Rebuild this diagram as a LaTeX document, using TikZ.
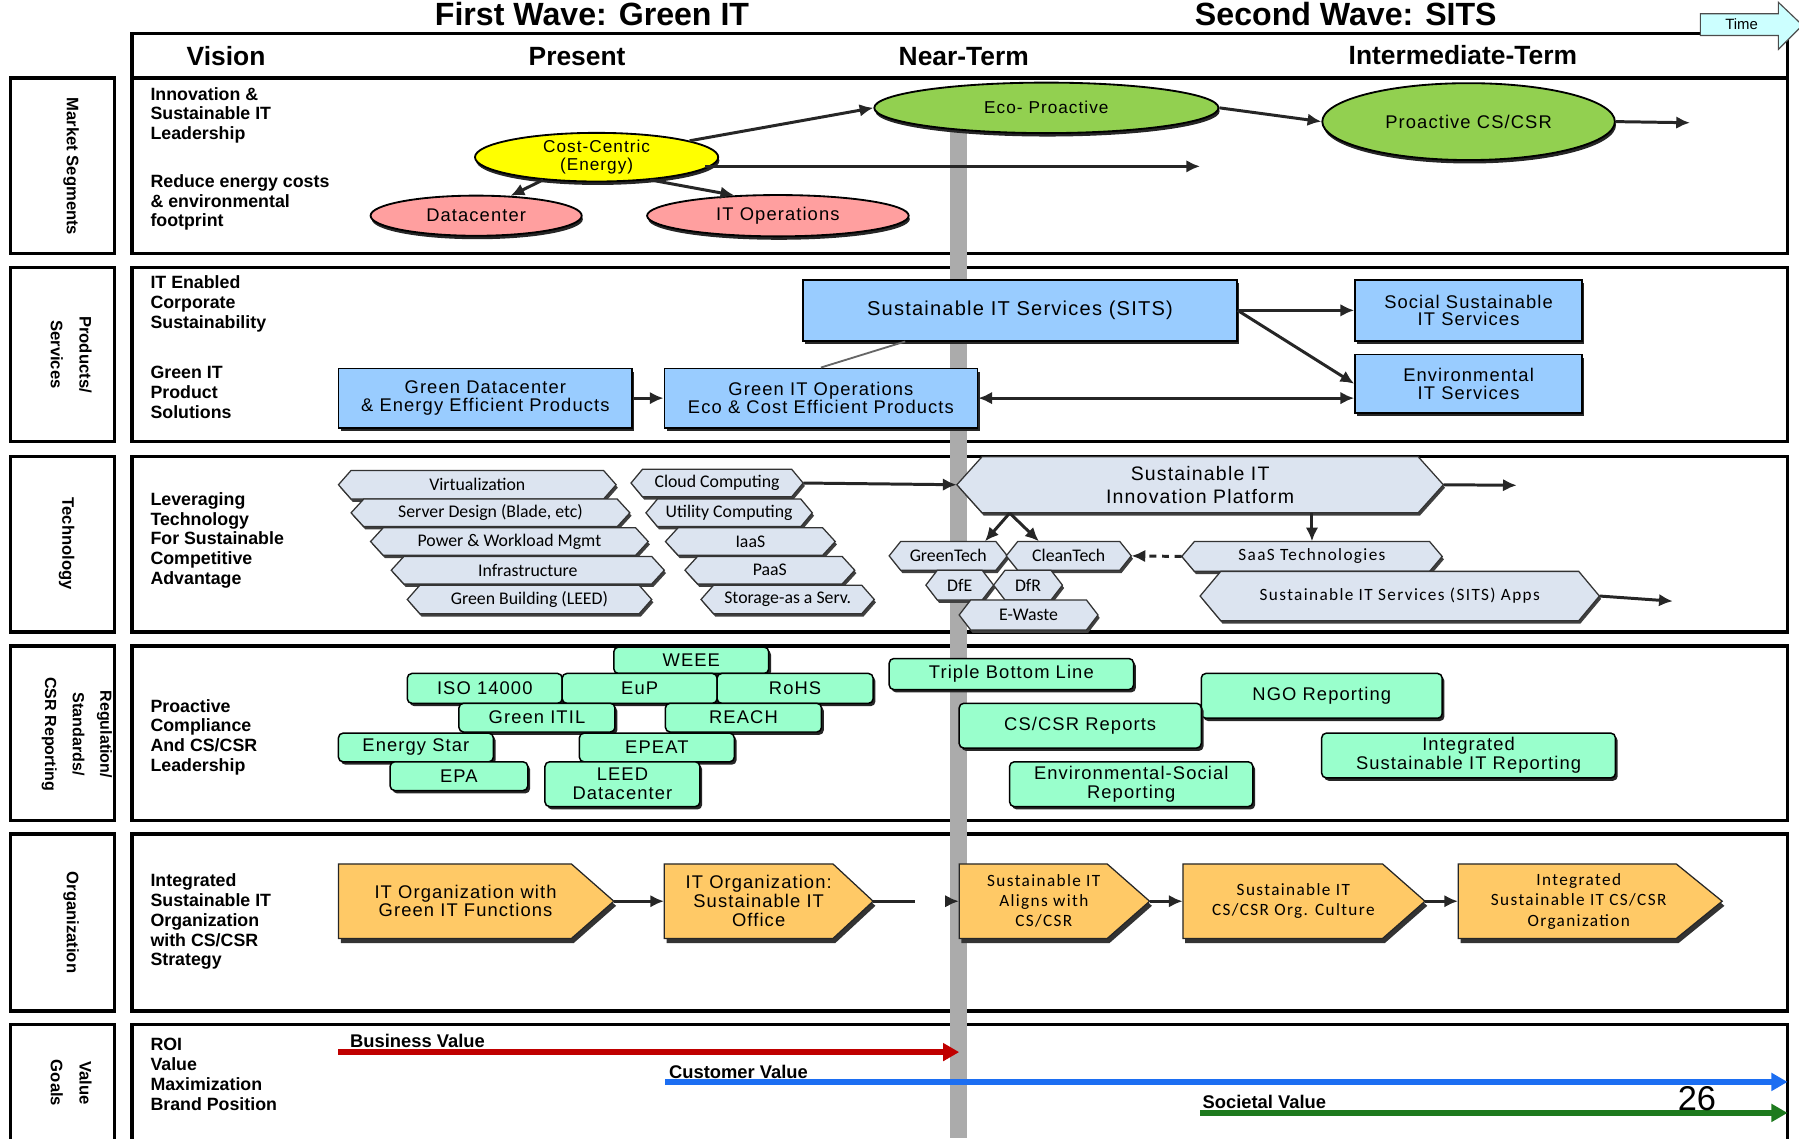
\documentclass[tikz,border=0pt]{standalone}
\usepackage{fontspec}
\setmainfont{Liberation Sans}
\newfontfamily\boxfont{Liberation Sans}[LetterSpace=6]
\newfontfamily\calfont{Carlito}
\newfontfamily\calspaced{Carlito}[LetterSpace=8]
\usetikzlibrary{shapes.geometric,shadows,arrows.meta}

\definecolor{ecogreen}{HTML}{92D050}
\definecolor{costyellow}{HTML}{FFFF00}
\definecolor{rosepink}{HTML}{FF9F9F}
\definecolor{skyblue}{HTML}{99CCFF}
\definecolor{hexfill}{HTML}{DCE4F0}
\definecolor{mintfill}{HTML}{99FFCC}
\definecolor{orgorange}{HTML}{FFC966}
\definecolor{barcol}{HTML}{ABABAB}
\definecolor{timefill}{HTML}{CCFFFF}
\definecolor{valred}{HTML}{C00000}
\definecolor{valblue}{HTML}{1C6EF2}
\definecolor{valgreen}{HTML}{1E7A1E}

\tikzset{
  rowframe/.style={draw=black, line width=3pt},
  sidelabel/.style={rotate=-90, align=center, inner sep=0, font=\bfseries\fontsize{14.5}{25}\selectfont},
  rowtext/.style={anchor=west, align=left, inner sep=0, font=\bfseries\fontsize{15.5}{17.2}\selectfont},
  colhead/.style={inner sep=0, font=\bfseries\fontsize{23}{25}\selectfont},
  wavetitle/.style={anchor=base, inner sep=0, font=\bfseries\fontsize{28}{30}\selectfont},
  conn/.style={draw=black!85, line width=2.6pt, -{Latex[length=12pt,width=11pt]}},
  oval/.style={ellipse, draw=black, line width=1.6pt, inner sep=0, align=center,
    drop shadow={shadow xshift=1pt, shadow yshift=-3pt, fill=black!85, opacity=1}},
  bluebox/.style={rectangle, draw=black, line width=1.3pt, fill=skyblue, inner sep=0, align=center,
    font=\boxfont\fontsize{16}{15.5}\selectfont,
    drop shadow={shadow xshift=2pt, shadow yshift=-3pt, fill=black!85, opacity=1}},
  hexbox/.style={fill=hexfill, draw=black!80, line width=1.1pt,
    drop shadow={shadow xshift=1.5pt, shadow yshift=-2.5pt, fill=black!75, opacity=1}},
  hexlabel/.style={inner sep=0, align=center, font=\calfont\fontsize{15.5}{17}\selectfont},
  mintbox/.style={rectangle, rounded corners=4pt, draw=black, line width=1.3pt, fill=mintfill,
    inner sep=1pt, align=center, font=\boxfont\fontsize{16}{16.5}\selectfont,
    drop shadow={shadow xshift=2pt, shadow yshift=-2.5pt, fill=black!85, opacity=1}},
  chevbox/.style={fill=orgorange, draw=black!85, line width=1.1pt,
    drop shadow={shadow xshift=2pt, shadow yshift=-4pt, fill=black!80, opacity=1}},
  chevlabel/.style={inner sep=0, align=center},
  vallabel/.style={anchor=base west, inner sep=0, font=\bfseries\fontsize{16}{16}\selectfont},
  valline/.style={line width=5pt, -{Triangle[length=14pt,width=15pt]}}
}

% elongated hexagon: name, x1, y1, x2, y2, point depth, label options, text
\newcommand\hexnode[8]{%
  \path[hexbox] ({#2+#6},#3) -- ({#4-#6},#3) -- (#4,{(#3+#5)/2}) -- ({#4-#6},#5)
     -- ({#2+#6},#5) -- (#2,{(#3+#5)/2}) -- cycle;
  \node[hexlabel, minimum width={#4-#2}, minimum height={#5-#3}, #7] (#1)
     at ({(#2+#4)/2},{(#3+#5)/2}) {#8};
}
% flat-backed chevron: name, x1, y1, x2, y2, point depth, label options, text
\newcommand\chevnode[8]{%
  \path[chevbox] (#2,#3) -- ({#4-#6},#3) -- (#4,{(#3+#5)/2}) -- ({#4-#6},#5) -- (#2,#5) -- cycle;
  \node[inner sep=0, minimum width={#4-#2}, minimum height={#5-#3}] (#1)
     at ({(#2+#4)/2},{(#3+#5)/2}) {};
  \node[chevlabel, #7] (#1-text) at ({(#2+#4)/2-#6/4},{(#3+#5)/2}) {#8};
}
% box node placed by its corners: name, x1, y1, x2, y2, style
\newcommand\boxat[6]{\node[#6, minimum width={#4-#2}, minimum height={#5-#3}] (#1) at ({(#2+#4)/2},{(#3+#5)/2})}

\begin{document}
\begin{tikzpicture}[x=1pt,y=-1pt]
\useasboundingbox (0,0) rectangle (1568,992);

% ---- wave titles
\node[wavetitle] (wave1) at (516,22) {First Wave: Green IT};
\node[wavetitle] (wave2) at (1173,22) {Second Wave: SITS};

% ---- frames
\draw[rowframe] (115,29) rectangle (1558,68);
\foreach \ya/\yb in {68/221, 233/385, 398/551, 563/715, 727/881, 893/1010}{
  \draw[rowframe] (115,\ya) rectangle (1558,\yb);
  \draw[rowframe] (9,\ya) rectangle (100,\yb);
}

% ---- time arrow
\path[fill=timefill, draw=black!70, line width=1pt]
  (1482,12) -- (1550,12) -- (1550,2) -- (1571,22) -- (1550,43) -- (1550,31) -- (1482,31) -- cycle;
\node[inner sep=0, font=\fontsize{13}{13}\selectfont] (time) at (1518,21) {Time};

% ---- column heads
\node[colhead] (hvision) at (197,49) {Vision};
\node[colhead] (hpresent) at (503,49) {Present};
\node[colhead] (hnear) at (840,49) {Near-Term};
\node[colhead] (hinter) at (1275,48) {Intermediate-Term};

% ---- side labels
\node[sidelabel] (lab1) at (62,145) {Market Segments};
\node[sidelabel] (lab2) at (62,309) {Products/\\Services};
\node[sidelabel] (lab3) at (58,474) {Technology};
\node[sidelabel, font=\bfseries\fontsize{14}{24}\selectfont] (lab4) at (67,640) {Regulation/\\Standards/\\CSR Reporting};
\node[sidelabel] (lab5) at (62,804) {Organization};
\node[sidelabel] (lab6) at (62,944) {Value\\Goals};

% ---- row captions
\node[rowtext] (t1a) at (131,100.5) {Innovation \&\\Sustainable IT\\Leadership};
\node[rowtext] (t1b) at (131,176.5) {Reduce energy costs\\\& environmental\\footprint};
\node[rowtext] (t2a) at (131,265) {IT Enabled\\Corporate\\Sustainability};
\node[rowtext] (t2b) at (131,342) {Green IT\\Product\\Solutions};
\node[rowtext] (t3) at (131,471) {Leveraging\\Technology\\For Sustainable\\Competitive\\Advantage};
\node[rowtext] (t4) at (131,642.5) {Proactive\\Compliance\\And CS/CSR\\Leadership};
\node[rowtext] (t5) at (131,803.5) {Integrated\\Sustainable IT\\Organization\\with CS/CSR\\Strategy};
\node[rowtext] (t6) at (131,936.5) {ROI\\Value\\Maximization\\Brand Position};

% ---- time line bar
\fill[barcol] (828,110) rectangle (843,992);

% ---- market segments
\node[oval, fill=ecogreen, minimum width=300, minimum height=44, font=\boxfont\fontsize{15}{16}\selectfont] (eco) at (912,94) {Eco- Proactive};
\node[oval, fill=ecogreen, minimum width=255, minimum height=67, font=\boxfont\fontsize{16}{16}\selectfont] (pcsr) at (1280,106) {Proactive CS/CSR};
\node[oval, fill=costyellow, minimum width=212, minimum height=35, font=\boxfont\fontsize{15}{16}\selectfont] (cost) at (520,137) {Cost-Centric\\(Energy)};
\node[oval, fill=rosepink, minimum width=184, minimum height=35, font=\boxfont\fontsize{16}{16}\selectfont] (dc) at (415,188) {Datacenter};
\node[oval, fill=rosepink, minimum width=228, minimum height=36, font=\boxfont\fontsize{16}{16}\selectfont] (itops) at (678,188) {IT Operations};
\coordinate (costfwd) at (1046,145);
\coordinate (pcsrfwd) at (1473,107);
\draw[conn] (cost.10) -- (eco.west);
\draw[conn] ([xshift=-12pt,yshift=-8pt]cost.east) -- (costfwd);
\draw[conn] (cost.203) -- (dc.30);
\draw[conn] (cost.337) -- (itops.155);
\draw[conn] (eco.east) -- (pcsr.west);
\draw[conn] (pcsr.east) -- (pcsrfwd);

% ---- products / services
\boxat{sits}{700}{244}{1078}{297}{bluebox, font=\boxfont\fontsize{17.5}{17}\selectfont} {Sustainable IT Services (SITS)};
\boxat{gdc}{295}{321}{551}{373}{bluebox} {Green Datacenter\\\& Energy Efficient Products};
\boxat{gito}{579}{321}{852}{373}{bluebox} {Green IT Operations\\Eco \& Cost Efficient Products};
\boxat{social}{1181}{244}{1379}{297}{bluebox} {Social Sustainable\\IT Services};
\boxat{envit}{1181}{309}{1379}{360}{bluebox} {Environmental\\IT Services};
\draw[conn] (gdc) -- (gito);
\draw[draw=black!60, line width=1.6pt] (gito.north) -- ([xshift=-100pt]sits.south);
\draw[conn] (sits.east) -- (social.west);
\draw[conn] (sits.east) -- (envit.west);
\draw[conn, {Latex[length=12pt,width=11pt]}-{Latex[length=12pt,width=11pt]}] (gito.east) -- (gito.east -| envit.west);

% ---- technology
\hexnode{virt}{295}{410}{537}{435}{11}{}{Virtualization}
\hexnode{server}{306}{435}{549}{459}{11}{}{Server Design (Blade, etc)}
\hexnode{power}{323}{460}{565}{484}{11}{}{Power \& Workload Mgmt}
\hexnode{infra}{341}{485}{579}{509}{11}{}{Infrastructure}
\hexnode{greenb}{355}{510}{568}{535}{11}{}{Green Building (LEED)}
\hexnode{cloud}{550}{409}{700}{433}{10}{}{Cloud Computing}
\hexnode{utility}{563}{435}{708}{459}{10}{}{Utility Computing}
\hexnode{iaas}{580}{460}{728}{484}{11}{}{IaaS}
\hexnode{paas}{597}{485}{745}{509}{11}{}{PaaS}
\hexnode{storage}{611}{510}{762}{535}{11}{}{Storage-as a Serv.}
\hexnode{platform}{834}{398}{1258}{447}{22}{font=\boxfont\fontsize{17}{20}\selectfont}{Sustainable IT\\Innovation Platform}
\hexnode{greentech}{775}{472}{878}{497}{10}{}{GreenTech}
\hexnode{cleantech}{877}{472}{986}{497}{10}{}{CleanTech}
\hexnode{dfe}{807}{497}{866}{523}{10}{}{DfE}
\hexnode{dfr}{866}{497}{926}{523}{10}{}{DfR}
\hexnode{ewaste}{836}{523}{957}{549}{10}{}{E-Waste}
\hexnode{saas}{1030}{472}{1257}{498}{11}{font=\calspaced\fontsize{15}{16}\selectfont}{SaaS Technologies}
\hexnode{sitsapps}{1046}{498}{1394}{541}{18}{font=\calspaced\fontsize{15}{16}\selectfont}{Sustainable IT Services (SITS) Apps}
\coordinate (platfwd) at (1322,423);
\coordinate (appsfwd) at (1458,524);
\draw[conn] (cloud.east) -- (platform.west);
\draw[conn] (platform.east) -- (platfwd);
\draw[conn] (saas.north |- platform.south) -- (saas.north);
\draw[conn] ([xshift=-166pt]platform.south) -- ([xshift=32pt]greentech.north);
\draw[conn] ([xshift=-166pt]platform.south) -- ([xshift=-26pt]cleantech.north);
\draw[conn, dash pattern=on 6pt off 5pt] (saas.west) -- (cleantech.east);
\draw[conn] (sitsapps.east) -- (appsfwd);

% ---- regulation / standards / reporting
\boxat{weee}{535}{564}{670}{587}{mintbox} {WEEE};
\boxat{iso}{355}{587}{490}{613}{mintbox} {ISO 14000};
\boxat{eup}{490}{587}{625}{613}{mintbox} {EuP};
\boxat{rohs}{625}{587}{761}{613}{mintbox} {RoHS};
\boxat{gitil}{400}{613}{536}{638}{mintbox} {Green ITIL};
\boxat{reach}{580}{613}{716}{638}{mintbox} {REACH};
\boxat{estar}{295}{639}{430}{664}{mintbox} {Energy Star};
\boxat{epeat}{505}{639}{640}{664}{mintbox} {EPEAT};
\boxat{epa}{340}{664}{460}{689}{mintbox} {EPA};
\boxat{leed}{475}{664}{610}{703}{mintbox} {LEED\\Datacenter};
\boxat{tbl}{775}{574}{988}{601}{mintbox} {Triple Bottom Line};
\boxat{ngo}{1047}{587}{1257}{626}{mintbox} {NGO Reporting};
\boxat{csrrep}{836}{613}{1047}{652}{mintbox} {CS/CSR Reports};
\boxat{isitr}{1152}{639}{1408}{678}{mintbox} {Integrated\\Sustainable IT Reporting};
\boxat{esr}{880}{664}{1092}{703}{mintbox} {Environmental-Social\\Reporting};

% ---- organization
\chevnode{org1}{295}{753}{535}{818}{37}{font=\boxfont\fontsize{16}{16}\selectfont}{IT Organization with\\Green IT Functions}
\chevnode{org2}{579}{753}{761}{818}{35}{font=\boxfont\fontsize{16}{16.5}\selectfont}{IT Organization:\\Sustainable IT\\Office}
\chevnode{org3}{836}{753}{1002}{818}{37}{font=\calspaced\fontsize{15}{17.5}\selectfont}{Sustainable IT\\Aligns with\\CS/CSR}
\chevnode{org4}{1031}{753}{1242}{818}{37}{font=\calspaced\fontsize{15}{17}\selectfont}{Sustainable IT\\CS/CSR Org. Culture}
\chevnode{org5}{1271}{753}{1501}{818}{40}{font=\calspaced\fontsize{15}{18}\selectfont}{Integrated\\Sustainable IT CS/CSR\\Organization}
\draw[conn] (org1) -- (org2);
\draw[conn, dash pattern=on 36pt off 60pt] (org2.east) -- (org3.west);
\draw[conn] (org3) -- (org4);
\draw[conn] (org4) -- (org5);

% ---- value goals
\coordinate (bv-a) at (295,917);
\coordinate (bv-b) at (836,917);
\coordinate (cv-a) at (580,943);
\coordinate (cv-b) at (1558,943);
\coordinate (sv-a) at (1046,970);
\coordinate (sv-b) at (1558,970);
\draw[valline, draw=valred, fill=valred] (bv-a) -- (bv-b);
\draw[valline, draw=valblue, fill=valblue] (cv-a) -- (cv-b);
\draw[valline, draw=valgreen, fill=valgreen] (sv-a) -- (sv-b);
\node[vallabel] (bv) at (305,913) {Business Value};
\node[vallabel] (cv) at (583,940) {Customer Value};
\node[vallabel] (sv) at (1048,966) {Societal Value};
\node[anchor=base, inner sep=0, font=\fontsize{30}{30}\selectfont] (pagenum) at (1479,968) {26};
\end{tikzpicture}
\end{document}
